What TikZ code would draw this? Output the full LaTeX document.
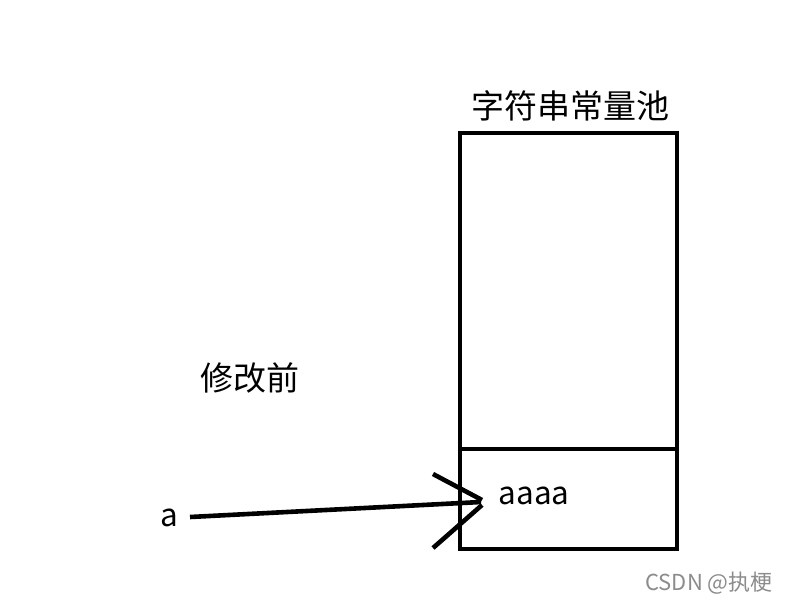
\documentclass[tikz,border=0pt]{standalone}
\usepackage{fontspec}
\setmainfont{Noto Sans CJK SC}
\begin{document}
\begin{tikzpicture}[x=1pt,y=-1pt,
  thick line/.style={line width=4.6pt},
  lbl/.style={inner sep=0pt,font=\fontsize{31.5}{35}\selectfont},
  cjk/.style={inner sep=0pt,font=\fontsize{33}{37}\selectfont}]
\useasboundingbox[fill=white] (0,0) rectangle (795,603);
\node[draw,thick line,outer sep=0pt,minimum width=217pt,minimum height=416pt,anchor=north west,inner sep=0pt] (pool) at (460,133) {};
\coordinate (divL) at (460,449);
\coordinate (divR) at (677,449);
\draw[thick line] (divL) -- (divR);
\node[cjk] (title) at (570,106) {字符串常量池};
\node[cjk] (before) at (250,378) {修改前};
\node[lbl] (str) at (534,496) {aaaa};
\node[lbl] (var) at (169,518) {a};
\coordinate (tail) at (190,517);
\coordinate (tip) at (481,502);
\coordinate (h1) at (433,474);
\coordinate (h1e) at (482,500);
\coordinate (h2) at (433,548);
\coordinate (h2e) at (482,505);
\draw[thick line] (tail) -- (tip);
\draw[thick line] (h1) -- (h1e);
\draw[thick line] (h2) -- (h2e);
\node[inner sep=0pt,text=black!45,font=\fontsize{22}{26}\selectfont] (wm) at (709,583) {CSDN @执梗};
\end{tikzpicture}
\end{document}
